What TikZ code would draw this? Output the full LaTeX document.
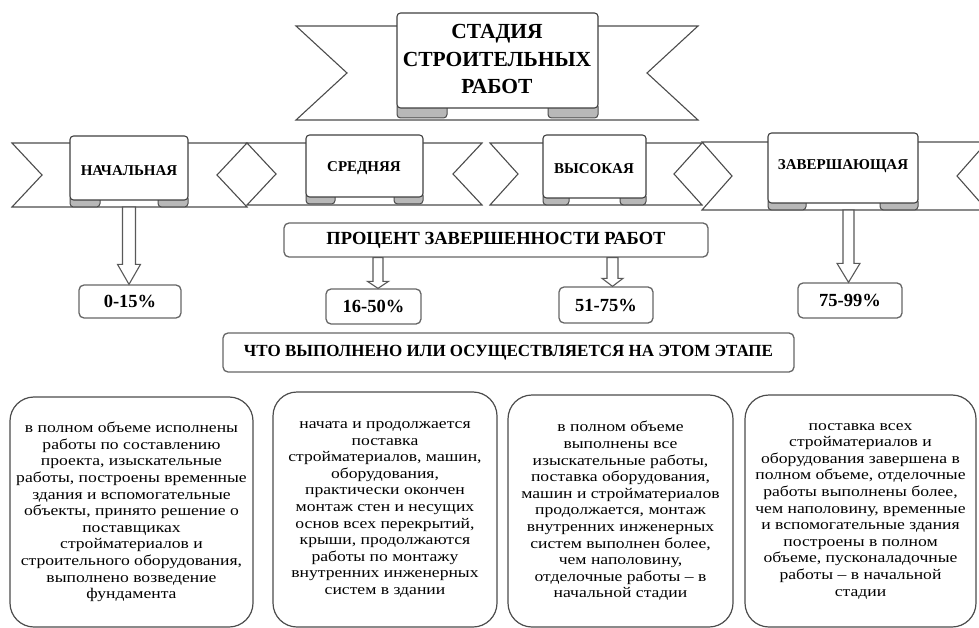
\documentclass[tikz,border=0pt]{standalone}
\usepackage{fontspec}
\setmainfont{Liberation Serif}
\newfontfamily\boxfont[FakeStretch=1.19]{Liberation Serif}
\usetikzlibrary{calc}
\tikzset{
 outl/.style={draw=black!70, line width=1.1pt, line join=miter},
 bandst/.style={outl, fill=white},
 tabst/.style={draw=black!70, line width=1pt, fill=black!28, rounded corners=3.5pt},
 panelst/.style={draw=black!75, line width=1.1pt, fill=white, rounded corners=3.5pt},
 lbl/.style={font=\fontsize{15}{18}\selectfont\bfseries, inner sep=0pt},
 pbox/.style={draw=black!60, line width=1.3pt, rounded corners=5pt, fill=white, font=\fontsize{18.5}{20}\selectfont\bfseries, inner sep=0pt},
 bigbox/.style={draw=black!70, line width=1.2pt, rounded corners=24pt, align=center, font=\boxfont\fontsize{14.8}{16.6}\selectfont, inner sep=0pt},
 barrow/.style={draw=black!65, line width=1.1pt, fill=white, line join=miter},
}
% band with inward notches: xL xR yt yb d
\newcommand\bandshape[5]{%
 \draw[bandst] (#1,#3) -- (#2,#3) -- (#2-#5,{(#3+#4)/2}) -- (#2,#4) -- (#1,#4) -- (#1+#5,{(#3+#4)/2}) -- cycle;}
% scroll panel: x1 x2 ytop ybot tabbot tabw
\newcommand\scrollpanel[6]{%
 \draw[tabst] (#1,#4-5) -- (#1,#5) -- (#1+#6,#5) -- (#1+#6,#4-5) -- cycle;
 \draw[tabst] (#2-#6,#4-5) -- (#2-#6,#5) -- (#2,#5) -- (#2,#4-5) -- cycle;
 \draw[panelst] (#1,#4) -- (#1,#3) -- (#2,#3) -- (#2,#4) -- cycle;}
% block arrow: start, end, shaft half, head half, head length
\newcommand\blockarr[5]{%
 \draw[barrow] ($(#1)+(-#3,0)$) -- ($(#2)+(-#3,-#5)$) -- ($(#2)+(-#4,-#5)$) -- (#2) -- ($(#2)+(#4,-#5)$) -- ($(#2)+(#3,-#5)$) -- ($(#1)+(#3,0)$) -- cycle;}
\begin{document}
\begin{tikzpicture}[x=1pt,y=-1pt]
\useasboundingbox (0,0) rectangle (979,628);
\clip (0,0) rectangle (979,628);
% top banner
\bandshape{296}{698}{26}{120}{51}
\scrollpanel{397}{598}{13}{108}{118}{50}
\node[lbl, align=center, font=\fontsize{21.5}{27.5}\selectfont\bfseries] (title) at (497,59) {СТАДИЯ\\СТРОИТЕЛЬНЫХ\\РАБОТ};
% stage banners
\bandshape{12}{247}{143}{207}{30}
\scrollpanel{70}{188}{136}{200}{207}{30}
\bandshape{247}{482}{143}{205}{29}
\scrollpanel{306}{423}{135}{197}{204}{29}
\bandshape{490}{702}{143}{205}{28}
\scrollpanel{543}{646}{135}{198}{205}{26}
\bandshape{702}{987}{142}{210}{30}
\scrollpanel{768}{918}{133}{203}{210}{38}
\node[lbl] (b1) at (129,171) {НАЧАЛЬНАЯ};
\node[lbl] (b2) at (364,168) {СРЕДНЯЯ};
\node[lbl] (b3) at (594,169) {ВЫСОКАЯ};
\node[lbl] (b4) at (843,166) {ЗАВЕРШАЮЩАЯ};
% percent boxes
\node[pbox, minimum width=424, minimum height=34] (pc) at (496,240) {ПРОЦЕНТ ЗАВЕРШЕННОСТИ РАБОТ};
\node[pbox, minimum width=102, minimum height=33] (p1) at (130,301.5) {0-15\%};
\node[pbox, minimum width=95, minimum height=35] (p2) at (373.5,306.5) {16-50\%};
\node[pbox, minimum width=94, minimum height=36] (p3) at (606,305) {51-75\%};
\node[pbox, minimum width=104, minimum height=35] (p4) at (850,300.5) {75-99\%};
% arrows
\coordinate (a1s) at (b1 |- 0,207);
\coordinate (a1e) at (a1s |- p1.north);
\blockarr{a1s}{a1e}{6.5}{11.5}{20}
\coordinate (a2s) at (pc.south -| 378,0);
\coordinate (a2e) at (a2s |- p2.north);
\blockarr{a2s}{a2e}{5}{10.5}{7}
\coordinate (a3s) at (pc.south -| 612.5,0);
\coordinate (a3e) at (a3s |- p3.north);
\blockarr{a3s}{a3e}{5.5}{10.5}{8}
\coordinate (a4s) at (848.5,210);
\coordinate (a4e) at (a4s |- p4.north);
\blockarr{a4s}{a4e}{5.5}{11.5}{19}
% what box
\node[pbox, minimum width=571, minimum height=39, font=\fontsize{17}{18}\selectfont\bfseries] (what) at (508.5,352.5) {ЧТО ВЫПОЛНЕНО ИЛИ ОСУЩЕСТВЛЯЕТСЯ НА ЭТОМ ЭТАПЕ};
% bottom boxes
\node[bigbox, minimum width=243, minimum height=230] (t1) at (131.5,512) {в полном объеме исполнены\\работы по составлению\\проекта, изыскательные\\работы, построены временные\\здания и вспомогательные\\объекты, принято решение о\\поставщиках\\стройматериалов и\\строительного оборудования,\\выполнено возведение\\фундамента};
\node[bigbox, minimum width=224, minimum height=235] (t2) at (385,509.5) {начата и продолжается\\поставка\\стройматериалов, машин,\\оборудования,\\практически окончен\\монтаж стен и несущих\\основ всех перекрытий,\\крыши, продолжаются\\работы по монтажу\\внутренних инженерных\\систем в здании};
\node[bigbox, minimum width=225, minimum height=232] (t3) at (620.5,511) {в полном объеме\\выполнены все\\изыскательные работы,\\поставка оборудования,\\машин и стройматериалов\\продолжается, монтаж\\внутренних инженерных\\систем выполнен более,\\чем наполовину,\\отделочные работы – в\\начальной стадии};
\node[bigbox, minimum width=231, minimum height=232] (t4) at (860.5,511) {поставка всех\\стройматериалов и\\оборудования завершена в\\полном объеме, отделочные\\работы выполнены более,\\чем наполовину, временные\\и вспомогательные здания\\построены в полном\\объеме, пусконаладочные\\работы – в начальной\\стадии};
\end{tikzpicture}
\end{document}
